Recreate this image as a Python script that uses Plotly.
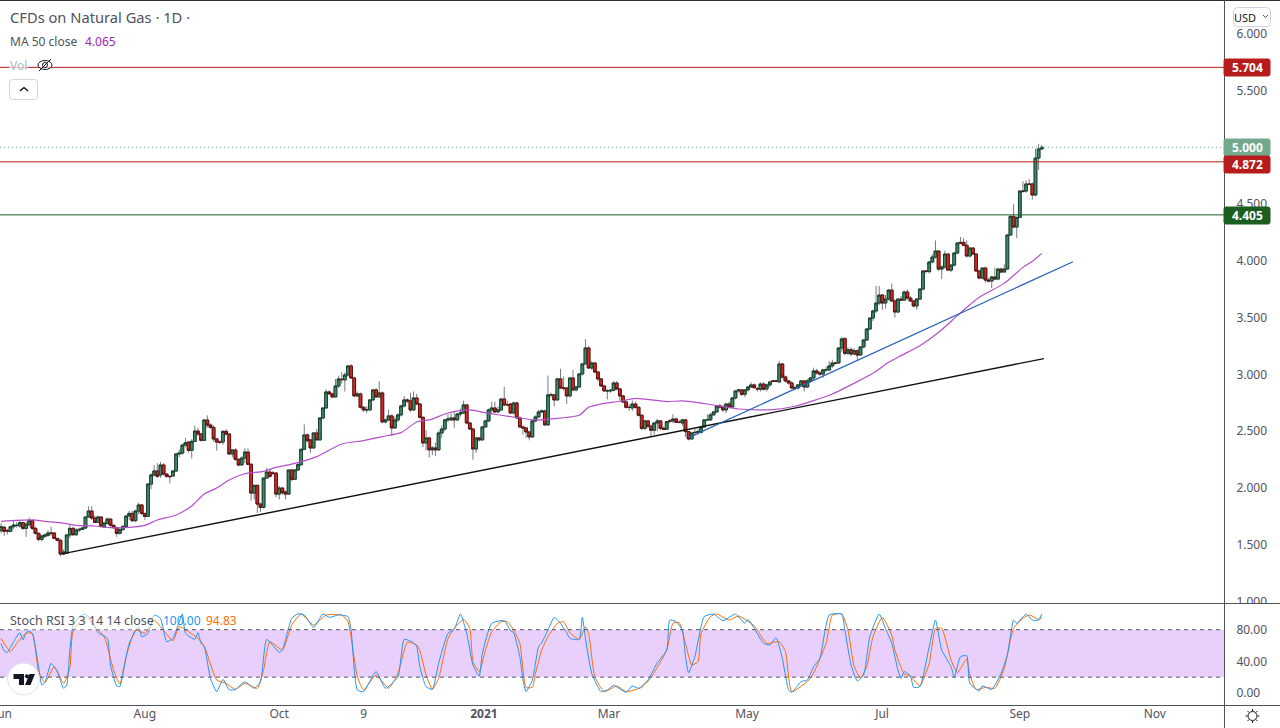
import plotly.graph_objects as go

W = 1280
H = 728
FONT = "Noto Sans"

# Daily candles (price in USD)
opens = [
    1.625, 1.654, 1.625, 1.619, 1.660, 1.670, 1.666, 1.695, 1.645, 1.677,
    1.713, 1.645, 1.601, 1.548, 1.575, 1.584, 1.604, 1.604, 1.557, 1.540,
    1.419, 1.425, 1.587, 1.645, 1.589, 1.630, 1.636, 1.648, 1.745, 1.798,
    1.736, 1.698, 1.745, 1.657, 1.689, 1.727, 1.672, 1.651, 1.601, 1.636,
    1.663, 1.754, 1.777, 1.713, 1.798, 1.851, 1.777, 1.751, 2.035, 2.115,
    2.150, 2.115, 2.203, 2.123, 2.103, 2.106, 2.150, 2.300, 2.308, 2.379,
    2.405, 2.332, 2.411, 2.502, 2.476, 2.420, 2.599, 2.555, 2.534, 2.432,
    2.405, 2.405, 2.499, 2.476, 2.300, 2.335, 2.253, 2.203, 2.264, 2.317,
    2.209, 1.956, 2.024, 1.859, 1.830, 2.088, 2.141, 2.132, 2.132, 1.947,
    2.000, 1.965, 1.947, 2.159, 2.077, 2.159, 2.206, 2.341,
    2.468, 2.424, 2.353, 2.485, 2.424, 2.617, 2.705, 2.846, 2.829, 2.802,
    2.899, 2.958, 2.952, 2.996, 3.075, 2.969, 2.811, 2.829, 2.711, 2.688,
    2.688, 2.776, 2.864, 2.802, 2.837, 2.582, 2.600, 2.635, 2.529, 2.600,
    2.644, 2.723, 2.776, 2.767, 2.688, 2.793, 2.740, 2.623, 2.397, 2.441,
    2.336, 2.353, 2.336, 2.485, 2.520, 2.600, 2.600, 2.617, 2.600, 2.652,
    2.661, 2.732, 2.573, 2.520, 2.344, 2.441, 2.424, 2.538, 2.591, 2.688,
    2.705, 2.670, 2.688, 2.784, 2.735, 2.740, 2.661, 2.749, 2.617, 2.538,
    2.529, 2.494, 2.450, 2.591, 2.626, 2.670, 2.679, 2.556, 2.820, 2.820,
    2.776, 2.961, 2.881, 2.881, 2.811, 2.969, 2.864, 2.890, 3.005, 3.093,
    3.233, 3.057, 3.101, 3.022, 2.961, 2.899, 2.855, 2.855, 2.861, 2.925,
    2.873,
    2.811, 2.758, 2.711, 2.705, 2.740, 2.711, 2.641, 2.526, 2.591, 2.544,
    2.509, 2.573, 2.591, 2.526, 2.517, 2.591, 2.591, 2.608, 2.579, 2.573,
    2.600, 2.497, 2.432, 2.491, 2.491, 2.491, 2.538, 2.600, 2.600, 2.644,
    2.670, 2.723, 2.714, 2.688, 2.740, 2.714, 2.793, 2.855, 2.864, 2.825,
    2.864, 2.890, 2.908, 2.875, 2.870, 2.916, 2.872, 2.908, 2.943, 2.943,
    2.934, 3.092, 2.978, 2.943, 2.925, 2.881, 2.881, 2.908, 2.943, 2.890,
    2.943, 2.969, 3.031, 3.013, 3.004, 3.040, 3.040, 3.075, 3.101, 3.101,
    3.233,
    3.315, 3.186, 3.218, 3.180, 3.209, 3.171, 3.242, 3.303, 3.400, 3.497,
    3.559, 3.629, 3.699, 3.629, 3.664, 3.743, 3.647, 3.550, 3.664, 3.655,
    3.726, 3.673, 3.647, 3.603, 3.664, 3.752, 3.911, 3.905, 3.990, 4.034,
    4.087, 3.928, 3.946, 4.060, 3.919, 3.963, 4.069, 4.163, 4.163, 4.137,
    4.043, 4.113, 4.060, 3.911, 3.849, 3.937, 3.831, 3.823, 3.858, 3.840,
    3.928, 3.902, 3.928, 4.228, 4.392, 4.298, 4.383, 4.615, 4.615, 4.677,
    4.677, 4.580, 4.905, 4.985,
]
closes = [
    1.660, 1.619, 1.622, 1.660, 1.675, 1.672, 1.695, 1.645, 1.683, 1.713,
    1.645, 1.601, 1.548, 1.578, 1.587, 1.604, 1.602, 1.557, 1.540, 1.419,
    1.437, 1.587, 1.645, 1.589, 1.630, 1.636, 1.648, 1.745, 1.798, 1.736,
    1.698, 1.745, 1.663, 1.692, 1.727, 1.672, 1.651, 1.601, 1.636, 1.663,
    1.754, 1.777, 1.713, 1.798, 1.851, 1.777, 1.751, 2.035, 2.115, 2.150,
    2.103, 2.203, 2.123, 2.103, 2.100, 2.150, 2.300, 2.308, 2.379, 2.399,
    2.332, 2.411, 2.502, 2.476, 2.420, 2.599, 2.555, 2.534, 2.432, 2.405,
    2.403, 2.499, 2.476, 2.300, 2.335, 2.253, 2.203, 2.264, 2.317, 2.209,
    1.956, 2.024, 1.859, 1.830, 2.088, 2.141, 2.103, 2.130, 1.947, 2.000,
    1.959, 1.947, 2.159, 2.077, 2.159, 2.206, 2.341, 2.467,
    2.418, 2.353, 2.485, 2.424, 2.617, 2.705, 2.846, 2.829, 2.802, 2.899,
    2.961, 2.955, 2.996, 3.075, 2.969, 2.811, 2.829, 2.711, 2.688, 2.690,
    2.776, 2.864, 2.802, 2.837, 2.582, 2.600, 2.635, 2.529, 2.600, 2.644,
    2.723, 2.776, 2.767, 2.688, 2.793, 2.740, 2.623, 2.397, 2.441, 2.336,
    2.353, 2.336, 2.485, 2.520, 2.600, 2.608, 2.617, 2.600, 2.652, 2.661,
    2.732, 2.573, 2.520, 2.344, 2.441, 2.424, 2.538, 2.591, 2.688, 2.705,
    2.670, 2.688, 2.784, 2.732, 2.733, 2.661, 2.749, 2.617, 2.538, 2.529,
    2.494, 2.450, 2.591, 2.626, 2.670, 2.679, 2.556, 2.820, 2.822, 2.776,
    2.961, 2.881, 2.879, 2.811, 2.969, 2.864, 2.890, 3.005, 3.093, 3.233,
    3.057, 3.101, 3.022, 2.961, 2.899, 2.855, 2.857, 2.861, 2.925, 2.873,
    2.811,
    2.758, 2.711, 2.709, 2.740, 2.711, 2.641, 2.526, 2.591, 2.544, 2.509,
    2.573, 2.591, 2.526, 2.517, 2.585, 2.589, 2.608, 2.579, 2.578, 2.600,
    2.497, 2.432, 2.485, 2.489, 2.497, 2.538, 2.600, 2.602, 2.644, 2.670,
    2.723, 2.714, 2.688, 2.740, 2.714, 2.793, 2.855, 2.864, 2.825, 2.864,
    2.890, 2.908, 2.884, 2.873, 2.916, 2.870, 2.908, 2.934, 2.941, 2.941,
    3.092, 2.978, 2.943, 2.925, 2.881, 2.879, 2.908, 2.943, 2.890, 2.943,
    2.969, 3.031, 3.013, 3.004, 3.040, 3.042, 3.075, 3.101, 3.099, 3.233,
    3.313,
    3.186, 3.218, 3.180, 3.209, 3.171, 3.242, 3.303, 3.400, 3.497, 3.559,
    3.629, 3.699, 3.629, 3.664, 3.743, 3.647, 3.550, 3.664, 3.655, 3.726,
    3.673, 3.647, 3.603, 3.664, 3.752, 3.911, 3.908, 3.990, 4.034, 4.087,
    3.928, 3.946, 4.060, 3.919, 3.963, 4.069, 4.157, 4.157, 4.137, 4.043,
    4.113, 4.060, 3.911, 3.849, 3.937, 3.831, 3.823, 3.858, 3.840, 3.928,
    3.902, 3.928, 4.228, 4.392, 4.298, 4.383, 4.615, 4.612, 4.677, 4.674,
    4.580, 4.905, 4.985, 5.000,
]
highs = [
    1.69, 1.67, 1.64, 1.67, 1.72, 1.70, 1.72, 1.70, 1.70, 1.74,
    1.72, 1.66, 1.61, 1.59, 1.60, 1.63, 1.66, 1.61, 1.56, 1.55,
    1.46, 1.59, 1.68, 1.66, 1.65, 1.65, 1.66, 1.75, 1.84, 1.84,
    1.76, 1.76, 1.75, 1.70, 1.74, 1.73, 1.68, 1.66, 1.64, 1.67,
    1.76, 1.80, 1.80, 1.81, 1.87, 1.86, 1.78, 2.04, 2.13, 2.20,
    2.22, 2.23, 2.22, 2.13, 2.11, 2.16, 2.31, 2.34, 2.39, 2.44,
    2.41, 2.43, 2.55, 2.53, 2.48, 2.61, 2.64, 2.57, 2.55, 2.44,
    2.42, 2.51, 2.52, 2.48, 2.34, 2.35, 2.26, 2.28, 2.35, 2.35,
    2.22, 2.03, 2.03, 1.87, 2.09, 2.18, 2.17, 2.15, 2.14, 2.02,
    2.01, 1.98, 2.16, 2.17, 2.17, 2.22, 2.35, 2.56,
    2.48, 2.43, 2.49, 2.52, 2.62, 2.71, 2.87, 2.86, 2.84, 2.96,
    2.99, 3.02, 3.02, 3.08, 3.09, 2.98, 2.85, 2.84, 2.72, 2.72,
    2.78, 2.87, 2.88, 2.94, 2.85, 2.61, 2.69, 2.65, 2.63, 2.66,
    2.73, 2.81, 2.79, 2.84, 2.85, 2.83, 2.75, 2.63, 2.51, 2.45,
    2.37, 2.40, 2.50, 2.55, 2.61, 2.65, 2.66, 2.67, 2.66, 2.70,
    2.77, 2.74, 2.58, 2.53, 2.45, 2.45, 2.54, 2.60, 2.70, 2.76,
    2.76, 2.72, 2.79, 2.89, 2.77, 2.75, 2.76, 2.76, 2.63, 2.55,
    2.54, 2.50, 2.60, 2.64, 2.69, 2.69, 2.69, 2.99, 2.84, 2.83,
    2.97, 3.05, 2.98, 2.89, 2.98, 3.04, 2.90, 3.01, 3.10, 3.31,
    3.25, 3.12, 3.11, 3.03, 2.97, 2.91, 2.87, 2.87, 2.94, 2.94,
    2.88,
    2.82, 2.78, 2.74, 2.77, 2.76, 2.72, 2.65, 2.60, 2.60, 2.56,
    2.58, 2.61, 2.60, 2.54, 2.59, 2.61, 2.65, 2.62, 2.60, 2.61,
    2.61, 2.50, 2.49, 2.52, 2.52, 2.54, 2.60, 2.65, 2.66, 2.68,
    2.73, 2.74, 2.73, 2.75, 2.76, 2.80, 2.86, 2.87, 2.87, 2.87,
    2.90, 2.93, 2.92, 2.89, 2.93, 2.93, 2.92, 2.94, 2.95, 2.95,
    3.12, 3.10, 2.99, 2.95, 2.94, 2.90, 2.91, 2.95, 2.95, 2.96,
    2.98, 3.06, 3.05, 3.03, 3.05, 3.07, 3.12, 3.13, 3.11, 3.24,
    3.33,
    3.33, 3.24, 3.24, 3.23, 3.22, 3.25, 3.31, 3.41, 3.50, 3.57,
    3.78, 3.78, 3.71, 3.70, 3.75, 3.80, 3.66, 3.67, 3.69, 3.74,
    3.75, 3.69, 3.65, 3.67, 3.76, 3.92, 3.92, 4.00, 4.06, 4.18,
    4.09, 3.96, 4.09, 4.07, 3.97, 4.08, 4.16, 4.21, 4.20, 4.18,
    4.12, 4.12, 4.07, 3.92, 3.94, 3.95, 3.85, 3.87, 3.94, 3.94,
    3.94, 3.97, 4.23, 4.40, 4.50, 4.39, 4.62, 4.70, 4.71, 4.72,
    4.69, 4.99, 5.03, 5.02,
]
lows = [
    1.60, 1.58, 1.59, 1.61, 1.64, 1.65, 1.65, 1.63, 1.57, 1.66,
    1.63, 1.59, 1.53, 1.53, 1.56, 1.57, 1.58, 1.55, 1.53, 1.40,
    1.41, 1.42, 1.56, 1.58, 1.58, 1.61, 1.63, 1.64, 1.74, 1.72,
    1.69, 1.69, 1.65, 1.65, 1.68, 1.66, 1.64, 1.57, 1.59, 1.62,
    1.66, 1.72, 1.70, 1.70, 1.77, 1.76, 1.72, 1.75, 1.99, 2.10,
    2.09, 2.09, 2.11, 2.09, 2.04, 2.10, 2.14, 2.27, 2.29, 2.36,
    2.31, 2.26, 2.41, 2.46, 2.41, 2.42, 2.53, 2.52, 2.41, 2.33,
    2.39, 2.38, 2.46, 2.29, 2.27, 2.24, 2.19, 2.20, 2.22, 2.20,
    1.89, 1.90, 1.78, 1.79, 1.82, 2.08, 2.09, 2.11, 1.92, 1.90,
    1.94, 1.90, 1.94, 2.06, 2.07, 2.15, 2.19, 2.34,
    2.40, 2.31, 2.35, 2.42, 2.42, 2.61, 2.70, 2.82, 2.79, 2.80,
    2.88, 2.92, 2.85, 2.98, 2.96, 2.80, 2.80, 2.70, 2.67, 2.66,
    2.68, 2.77, 2.80, 2.80, 2.57, 2.57, 2.59, 2.46, 2.52, 2.58,
    2.63, 2.71, 2.75, 2.67, 2.68, 2.73, 2.61, 2.36, 2.33, 2.27,
    2.29, 2.28, 2.33, 2.44, 2.50, 2.58, 2.59, 2.53, 2.59, 2.63,
    2.65, 2.56, 2.51, 2.25, 2.31, 2.41, 2.42, 2.53, 2.58, 2.65,
    2.66, 2.66, 2.68, 2.72, 2.72, 2.65, 2.65, 2.61, 2.53, 2.47,
    2.44, 2.42, 2.45, 2.58, 2.62, 2.66, 2.55, 2.55, 2.80, 2.72,
    2.77, 2.87, 2.86, 2.74, 2.80, 2.85, 2.85, 2.88, 2.99, 3.09,
    3.05, 3.04, 3.01, 2.94, 2.89, 2.85, 2.78, 2.84, 2.85, 2.86,
    2.77,
    2.75, 2.70, 2.68, 2.68, 2.70, 2.63, 2.51, 2.51, 2.53, 2.45,
    2.47, 2.50, 2.51, 2.51, 2.51, 2.57, 2.57, 2.57, 2.57, 2.55,
    2.45, 2.42, 2.43, 2.46, 2.47, 2.48, 2.53, 2.59, 2.59, 2.64,
    2.66, 2.70, 2.67, 2.66, 2.70, 2.70, 2.78, 2.84, 2.81, 2.80,
    2.85, 2.88, 2.87, 2.85, 2.85, 2.86, 2.85, 2.89, 2.93, 2.93,
    2.93, 2.96, 2.93, 2.91, 2.87, 2.86, 2.87, 2.89, 2.85, 2.88,
    2.93, 2.95, 3.00, 2.99, 2.97, 3.02, 3.03, 3.06, 3.09, 3.10,
    3.20,
    3.17, 3.17, 3.16, 3.17, 3.12, 3.17, 3.23, 3.30, 3.39, 3.47,
    3.54, 3.61, 3.57, 3.58, 3.65, 3.64, 3.50, 3.54, 3.65, 3.65,
    3.66, 3.64, 3.59, 3.57, 3.66, 3.74, 3.89, 3.89, 3.98, 4.02,
    3.91, 3.84, 3.93, 3.91, 3.90, 3.95, 4.06, 4.15, 4.13, 4.03,
    4.03, 4.05, 3.90, 3.84, 3.84, 3.81, 3.81, 3.76, 3.83, 3.83,
    3.89, 3.90, 3.92, 4.22, 4.29, 4.20, 4.38, 4.60, 4.60, 4.67,
    4.54, 4.57, 4.80, 4.98,
]
bars = list(range(len(closes)))

ma_bars = [0, 10, 14, 19, 24, 30, 35, 41, 46, 50, 56, 61, 65, 69, 73, 78, 84, 88, 93,
           101, 109, 116, 122, 128, 133, 137, 143, 147, 150, 156, 163, 171, 177, 185,
           188, 193, 198, 203, 213, 218, 226, 236, 242, 247, 254, 260, 266, 274, 279,
           284, 286, 288, 294, 301, 306, 313, 321, 327, 330, 333]
ma_vals = [1.707, 1.719, 1.707, 1.695, 1.672, 1.666, 1.651, 1.654, 1.672, 1.719, 1.763,
           1.842, 1.947, 2.000, 2.071, 2.126, 2.147, 2.182, 2.210, 2.277, 2.388, 2.418,
           2.453, 2.488, 2.582, 2.600, 2.661, 2.682, 2.688, 2.658, 2.629, 2.600, 2.611,
           2.641, 2.711, 2.746, 2.764, 2.790, 2.761, 2.767, 2.740, 2.696, 2.688, 2.690,
           2.720, 2.770, 2.828, 2.937, 3.010, 3.107, 3.136, 3.166, 3.253, 3.394, 3.518,
           3.679, 3.802, 3.943, 3.996, 4.066]

k_bars = [0, 1, 2, 4, 6, 7, 8, 9, 10, 12, 13, 14, 16, 18, 20, 21, 22, 23, 25, 27, 29, 31,
          34, 35, 37, 38, 39, 41, 44, 45, 47, 49, 51, 53, 55, 58, 59, 62, 63, 64, 65, 67,
          69, 71, 73, 75, 78, 81, 83, 85, 89, 90, 93, 95, 97, 100, 103, 105, 108, 111,
          112, 114, 116, 120, 123, 127, 129, 132, 133, 134, 136, 138, 140, 143, 145, 147,
          149, 151, 153, 154, 157, 161, 163, 164, 166, 167, 168, 170, 172, 173, 175, 177,
          179, 181, 182, 185, 186, 187, 189, 192, 194, 196, 200, 202, 204, 207, 210, 213,
          214, 216, 218, 219, 220, 222, 225, 228, 231, 235, 238, 239, 241, 244, 246, 248,
          250, 252, 253, 256, 258, 260, 262, 265, 269, 270, 272, 274, 276, 278, 281, 283,
          285, 287, 288, 289, 291, 292, 294, 297, 299, 301, 304, 305, 307, 309, 310, 313,
          314, 317, 320, 322, 324, 325, 328, 330, 332, 333]
k_vals = [62.7, 53.0, 51.3, 64.8, 76.2, 66.9, 76.2, 78.3, 75.3, 33.0, 10.0, 13.0, 37.4,
          27.0, 6.0, 10.0, 54.0, 84.6, 96.4, 99.7, 91.3, 76.2, 69.0, 35.3, 8.8, 8.0, 24.8,
          62.7, 83.7, 71.0, 75.3, 98.5, 94.3, 64.8, 69.0, 99.7, 75.3, 67.7, 76.2, 62.7,
          58.5, 18.5, 1.7, 17.2, 3.8, 4.6, 14.3, 5.9, 14.3, 67.7, 51.3, 54.3, 94.3, 100.0,
          98.5, 82.9, 99.7, 95.5, 98.5, 96.4, 79.5, 3.8, 1.7, 27.0, 5.9, 20.6, 67.7, 63.5,
          58.5, 33.0, 8.0, 4.6, 37.4, 75.3, 80.4, 99.7, 75.3, 35.3, 21.4, 50.0, 88.0, 91.3,
          78.7, 76.2, 45.8, 16.4, 1.7, 16.4, 58.5, 63.5, 79.5, 95.5, 88.0, 76.2, 69.0, 67.7,
          95.5, 69.0, 24.8, 1.7, 3.8, 9.7, 0.8, 8.8, 5.9, 16.4, 38.3, 54.3, 92.1, 90.0,
          79.5, 45.8, 25.6, 45.8, 96.4, 99.7, 91.3, 99.7, 88.0, 93.0, 81.6, 62.7, 60.6, 69.8,
          43.7, 3.8, 0.8, 14.3, 16.4, 33.2, 43.7, 98.5, 99.7, 79.5, 35.3, 15.1, 22.7, 71.1,
          99.7, 81.6, 62.7, 29.0, 18.5, 27.0, 21.4, 7.1, 8.0, 58.5, 92.1, 54.3, 33.2, 19.8,
          45.8, 47.1, 12.2, 2.5, 8.8, 4.6, 24.8, 48.0, 92.1, 88.0, 99.7, 92.1, 92.1, 100.0]
d_bars = [0, 3, 5, 8, 10, 12, 14, 17, 20, 22, 23, 27, 30, 33, 36, 38, 40, 43, 46, 49, 51,
          55, 57, 60, 63, 65, 69, 72, 75, 78, 82, 84, 86, 90, 93, 96, 100, 104, 109, 111,
          114, 116, 120, 124, 127, 130, 133, 134, 136, 138, 140, 143, 145, 148, 150, 151,
          153, 155, 157, 160, 162, 164, 166, 168, 170, 171, 173, 175, 178, 180, 182, 185,
          187, 188, 190, 193, 197, 200, 205, 208, 213, 215, 217, 219, 221, 223, 224, 227,
          229, 233, 236, 241, 245, 249, 251, 253, 259, 264, 266, 269, 271, 273, 275, 277,
          279, 282, 285, 286, 289, 291, 294, 297, 299, 301, 304, 306, 309, 310, 312, 315,
          318, 321, 324, 327, 329, 332, 333]
d_vals = [69.0, 52.2, 62.7, 75.3, 75.3, 27.0, 13.0, 33.2, 12.2, 31.1, 77.4, 96.4, 83.7,
          71.1, 29.0, 11.3, 45.8, 79.5, 75.3, 92.1, 83.7, 66.0, 83.7, 77.4, 69.0, 59.3,
          16.4, 12.2, 4.6, 12.2, 5.9, 29.0, 64.8, 54.3, 85.8, 99.7, 85.8, 98.5, 98.5, 90.0,
          20.6, 3.8, 22.7, 5.9, 24.8, 63.9, 60.6, 53.5, 22.7, 4.6, 18.5, 69.0, 81.6, 93.0,
          81.6, 39.5, 27.0, 54.3, 77.4, 90.0, 90.0, 79.5, 62.7, 7.1, 7.1, 24.8, 54.3, 71.1,
          88.0, 90.0, 76.2, 67.7, 83.7, 75.3, 20.6, 1.7, 8.8, 1.7, 7.1, 19.8, 54.3, 88.0,
          88.8, 62.7, 35.3, 39.5, 75.3, 96.4, 99.7, 92.1, 97.2, 84.6, 62.7, 64.8, 52.2, 1.7,
          18.5, 62.7, 98.5, 99.7, 79.5, 33.2, 19.3, 33.2, 71.1, 95.5, 73.2, 54.3, 24.0, 21.4,
          8.8, 37.4, 81.6, 81.6, 41.6, 25.6, 42.9, 22.7, 4.6, 7.1, 5.9, 31.1, 81.6, 94.3,
          98.5, 93.0, 94.83]

# Hand drawn trend lines and levels
support_bars = [19.5, 333.7]
support_vals = [1.42, 3.14]
channel_bars = [220, 343]
channel_vals = [2.444, 3.993]
level_prices = [5.704, 4.872, 4.405]
level_colors = ["#b71c1c", "#b71c1c", "#1b5e20"]
last_price = 5.000

# 5.000 is left out, the last price tag sits on it
price_ticks = [1, 1.5, 2, 2.5, 3, 3.5, 4, 4.5, 5.5, 6]
stoch_ticks = [0, 40, 80]
time_ticks = [0.6, 46, 89, 116, 154.5, 194.5, 238.7, 281.9, 326, 369.2]
time_labels = ["Jun", "Aug", "Oct", "9", "<b>2021</b>", "Mar", "May", "Jul", "Sep", "Nov"]


def px(x, y):
    return x / W, 1 - y / H


def line_px(x0, y0, x1, y1, color, width=1):
    a, b = px(x0, y0)
    c, d = px(x1, y1)
    return dict(type="line", xref="paper", yref="paper", x0=a, y0=b, x1=c, y1=d,
                line=dict(color=color, width=width))


def round_rect(x0, y0, x1, y1, r, fill, border=None):
    pts = [(x0 + r, y0), (x1 - r, y0), (x1, y0), (x1, y0 + r), (x1, y1 - r), (x1, y1),
           (x1 - r, y1), (x0 + r, y1), (x0, y1), (x0, y1 - r), (x0, y0 + r), (x0, y0)]
    p = [px(*q) for q in pts]
    path = (f"M{p[0][0]},{p[0][1]} L{p[1][0]},{p[1][1]} Q{p[2][0]},{p[2][1]} {p[3][0]},{p[3][1]} "
            f"L{p[4][0]},{p[4][1]} Q{p[5][0]},{p[5][1]} {p[6][0]},{p[6][1]} "
            f"L{p[7][0]},{p[7][1]} Q{p[8][0]},{p[8][1]} {p[9][0]},{p[9][1]} "
            f"L{p[10][0]},{p[10][1]} Q{p[11][0]},{p[11][1]} {p[0][0]},{p[0][1]} Z")
    return dict(type="path", xref="paper", yref="paper", path=path, fillcolor=fill,
                line=dict(color=border or fill, width=1))


def poly(points, fill):
    p = [px(*q) for q in points]
    path = "M" + " L".join(f"{a},{b}" for a, b in p) + " Z"
    return dict(type="path", xref="paper", yref="paper", path=path, fillcolor=fill,
                line=dict(width=0))


def circle(cx, cy, rx, ry, fill, border, width=1):
    a, b = px(cx - rx, cy - ry)
    c, d = px(cx + rx, cy + ry)
    return dict(type="circle", xref="paper", yref="paper", x0=a, y0=b, x1=c, y1=d,
                fillcolor=fill, line=dict(color=border, width=width))


def text(x, y, s, color, size=12, anchor="left", bg=None):
    a, b = px(x, y)
    return dict(xref="paper", yref="paper", x=a, y=b, text=s, showarrow=False, xanchor=anchor,
                yanchor="middle", font=dict(family=FONT, size=size, color=color),
                bgcolor=bg, borderpad=0)


fig = go.Figure()

# Wicks first, grey, then the bodies on top with their own outline
fig.add_trace(go.Candlestick(
    x=bars, open=opens, high=highs, low=lows, close=closes, whiskerwidth=0,
    increasing=dict(line=dict(color="#787b80", width=1), fillcolor="#787b80"),
    decreasing=dict(line=dict(color="#787b80", width=1), fillcolor="#787b80"),
    xaxis="x", yaxis="y", showlegend=False,
))
fig.add_trace(go.Candlestick(
    x=bars, open=opens, close=closes,
    high=[max(o, c) for o, c in zip(opens, closes)],
    low=[min(o, c) for o, c in zip(opens, closes)],
    increasing=dict(line=dict(color="#17402d", width=1), fillcolor="#3f8a68"),
    decreasing=dict(line=dict(color="#5e1010", width=1), fillcolor="#cf2c23"),
    xaxis="x", yaxis="y", showlegend=False,
))
fig.add_trace(go.Scatter(x=ma_bars, y=ma_vals, mode="lines", xaxis="x", yaxis="y",
                         line=dict(color="#b44fc9", width=1.2, shape="spline", smoothing=0.6),
                         showlegend=False))
fig.add_trace(go.Scatter(x=support_bars, y=support_vals, mode="lines", xaxis="x", yaxis="y",
                         line=dict(color="#111111", width=1.4), showlegend=False))
fig.add_trace(go.Scatter(x=channel_bars, y=channel_vals, mode="lines", xaxis="x", yaxis="y",
                         line=dict(color="#2962b8", width=1.2), showlegend=False))
fig.add_trace(go.Scatter(x=d_bars, y=d_vals, mode="lines", xaxis="x2", yaxis="y2",
                         line=dict(color="#ff6d00", width=1, shape="spline", smoothing=0.5),
                         showlegend=False))
fig.add_trace(go.Scatter(x=k_bars, y=k_vals, mode="lines", xaxis="x2", yaxis="y2",
                         line=dict(color="#2196f3", width=1, shape="spline", smoothing=0.5),
                         showlegend=False))

shapes = [
    dict(type="rect", xref="x2 domain", yref="y2", x0=0, x1=1, y0=20, y1=80,
         fillcolor="#e9cffc", line=dict(width=0), layer="below"),
    dict(type="line", xref="x2 domain", yref="y2", x0=0, x1=1, y0=80, y1=80,
         line=dict(color="#555860", width=1, dash="4px,4px")),
    dict(type="line", xref="x2 domain", yref="y2", x0=0, x1=1, y0=20, y1=20,
         line=dict(color="#555860", width=1, dash="4px,4px")),
    dict(type="line", xref="x domain", yref="y", x0=0, x1=1, y0=last_price, y1=last_price,
         line=dict(color="#6fa98a", width=1, dash="1px,3px")),
]
for price, color in zip(level_prices, level_colors):
    shapes.append(dict(type="line", xref="x domain", yref="y", x0=0, x1=1, y0=price, y1=price,
                       line=dict(color=color, width=1)))

# Panel borders, the white strip cuts the 1.000 label like the pane edge does
a, b = px(1225, 604)
c, d = px(1280, 614)
shapes.append(dict(type="rect", xref="paper", yref="paper", x0=a, y0=b, x1=c, y1=d,
                   fillcolor="white", line=dict(width=0)))
shapes += [
    line_px(0, 0.5, 1280, 0.5, "#2a2e39"),
    line_px(0, 603.5, 1280, 603.5, "#50535e"),
    line_px(0, 705.5, 1280, 705.5, "#50535e"),
    line_px(1224.5, 0, 1224.5, 728, "#50535e"),
]

# Price labels on the right axis
shapes += [
    round_rect(1224, 59, 1270, 76, 2, "#b71c1c"),
    round_rect(1224, 139, 1270, 156, 2, "#72a88c"),
    round_rect(1224, 156, 1270, 173, 2, "#b71c1c"),
    round_rect(1224, 207, 1270, 224, 2, "#1b5e20"),
]

# USD button and the collapse button
shapes += [
    round_rect(1233.5, 7.5, 1270.5, 26.5, 4, "white", "#d1d4dc"),
    line_px(1263, 15, 1265.5, 17.5, "#50535e"),
    line_px(1265.5, 17.5, 1268, 15, "#50535e"),
    round_rect(9.5, 79.5, 37.5, 99.5, 3, "white", "#d1d4dc"),
    line_px(20, 91, 24, 87.5, "#131722", 1.5),
    line_px(24, 87.5, 28, 91, "#131722", 1.5),
]

# Crossed out eye next to Vol
shapes += [
    circle(45, 65, 7, 4.5, "rgba(255,255,255,0.6)", "#131722"),
    circle(45, 65, 2.5, 2.5, "rgba(0,0,0,0)", "#131722"),
    line_px(39, 71, 51, 59, "#131722"),
]

# TradingView badge
shapes += [
    circle(23.5, 679, 16, 16, "white", "#e0e3eb"),
    poly([(13.5, 674), (24, 674), (24, 685), (19, 685), (19, 679), (13.5, 679)], "#131722"),
    circle(27, 676.3, 2.1, 2.1, "#131722", "#131722", 0),
    poly([(35, 674), (30.5, 685), (25, 685), (29.5, 674)], "#131722"),
]

# Settings sun in the corner
shapes.append(circle(1252.5, 716, 4.5, 4.5, "white", "#131722"))
for x0, y0, x1, y1 in [(1252.5, 709, 1252.5, 711), (1252.5, 721, 1252.5, 723),
                       (1245.5, 716, 1247.5, 716), (1257.5, 716, 1259.5, 716),
                       (1247.5, 711, 1249, 712.5), (1256, 719.5, 1257.5, 721),
                       (1257.5, 711, 1256, 712.5), (1249, 719.5, 1247.5, 721)]:
    shapes.append(line_px(x0, y0, x1, y1, "#131722"))

annotations = [
    text(9, 17, "CFDs on Natural Gas · 1D ·", "#50535e", 14.7),
    text(9, 41, "MA 50 close", "#50535e", 12),
    text(84, 41, "4.065", "#9c27b0", 12),
    text(9, 65, "Vol", "#b2b5be", 12, bg="rgba(255,255,255,0.7)"),
    text(9, 620, "Stoch RSI 3 3 14 14 close", "#50535e", 12.5, bg="rgba(255,255,255,0.55)"),
    text(162, 620, "100.00", "#2196f3", 12),
    text(205, 620, "94.83", "#ff6d00", 12),
    text(1247, 67.5, "<b>5.704</b>", "white", 12, "center"),
    text(1247, 147.5, "<b>5.000</b>", "white", 12, "center"),
    text(1247, 164.5, "<b>4.872</b>", "white", 12, "center"),
    text(1247, 215.5, "<b>4.405</b>", "white", 12, "center"),
    text(1245, 17, "USD", "#131722", 11, "center"),
]

bar_range = [-0.35, 391.33]
plot_right = 1224 / W
fig.update_layout(
    width=W,
    height=H,
    margin=dict(l=0, r=0, t=0, b=0, autoexpand=False),
    paper_bgcolor="white",
    plot_bgcolor="white",
    showlegend=False,
    hovermode=False,
    boxgap=0.12,
    boxgroupgap=0,
    shapes=shapes,
    annotations=annotations,
    font=dict(family=FONT, size=12, color="#50535e"),
    xaxis=dict(domain=[0, plot_right], range=bar_range, anchor="y", showgrid=False,
               zeroline=False, showticklabels=False, ticks="", rangeslider=dict(visible=False)),
    yaxis=dict(domain=[(H - 603) / H, (H - 1) / H], range=[0.988, 6.288], side="right",
               anchor="x", showgrid=False, zeroline=False, tickvals=price_ticks,
               tickformat=".3f", ticks="outside", ticklen=9, tickcolor="rgba(0,0,0,0)"),
    xaxis2=dict(domain=[0, plot_right], range=bar_range, anchor="y2", showgrid=False,
                zeroline=False, tickvals=time_ticks, ticktext=time_labels, ticks="",
                ticklabeloverflow="allow"),
    yaxis2=dict(domain=[(H - 705) / H, (H - 604) / H], range=[-15.2, 112.4], side="right",
                anchor="x2", showgrid=False, zeroline=False, tickvals=stoch_ticks,
                tickformat=".2f", ticks="outside", ticklen=9, tickcolor="rgba(0,0,0,0)"),
)

# The browser's default page margin would push the chart 8px off
fig.write_html("out.html", config=dict(displayModeBar=False),
               post_script="document.body.style.margin='0';")
